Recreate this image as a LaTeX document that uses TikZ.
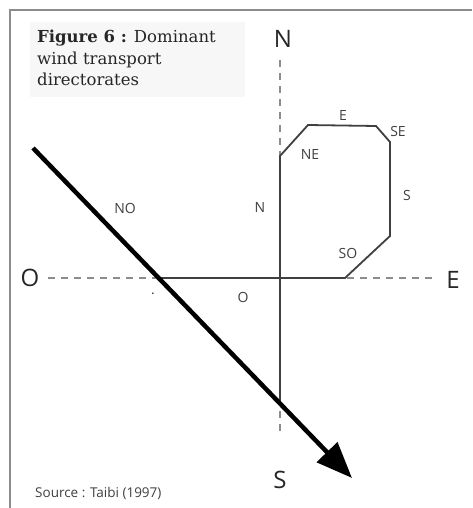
\documentclass[tikz,border=0pt]{standalone}
\usepackage{fontspec}
\setmainfont{DejaVu Serif}
\newfontfamily\labfont{Open Sans}
\usetikzlibrary{arrows.meta}
\begin{document}
\begin{tikzpicture}[x=1pt,y=-1pt,
  axislabel/.style={font=\labfont\fontsize{24}{26}\selectfont, text=black!85, inner sep=0pt},
  seclabel/.style={font=\labfont\fontsize{14}{16}\selectfont, text=black!75, inner sep=0pt},
  axisline/.style={draw=black!45, line width=1.7pt, dash pattern=on 7pt off 6pt},
  roseline/.style={draw=black!75, line width=1.8pt, line join=miter},
  windarrow/.style={draw=black, line width=4.5pt, -{Triangle[length=36pt,width=28pt]}}]
\useasboundingbox (0,0) rectangle (472,508);
\fill[white] (0,0) rectangle (472,508);
% frame
\draw[black!45, line width=2.2pt] (10,508) -- (10,10) -- (472,10);
% title box
\fill[black!3] (30,22) rectangle (245,97);
\node[anchor=north west, align=left, inner sep=0pt, text=black!85,
      font=\fontsize{16.5}{21.5}\selectfont] (title) at (37,30)
  {\textbf{Figure 6 :} Dominant\\wind transport\\directorates};
% axis labels
\node[axislabel] (lN) at (283,39) {N};
\node[axislabel] (lS) at (280,480) {S};
\node[axislabel] (lO) at (30,278) {O};
\node[axislabel] (lE) at (453,280) {E};
% axes
\coordinate (nTop) at (280,60);
\coordinate (sBot) at (280,432);
\coordinate (oL) at (48,278);
\coordinate (eR) at (432,278);
\draw[axisline] (nTop) -- (sBot);
\draw[axisline] (oL) -- (eR);
% rose polygon
\coordinate (pO) at (159,278);
\coordinate (pSO) at (345,278);
\coordinate (pS1) at (390,236);
\coordinate (pS2) at (390,142);
\coordinate (pSE) at (376,126);
\coordinate (pE) at (308,125);
\coordinate (pNE) at (280,156);
\coordinate (pN) at (280,403);
\draw[roseline] (pO) -- (pSO) -- (pS1) -- (pS2) -- (pSE) -- (pE) -- (pNE) -- (pN);
% sector labels
\node[seclabel] (tNO) at (125,208) {NO};
\node[seclabel] (tN) at (260,208) {N};
\node[seclabel] (tNE) at (310,155) {NE};
\node[seclabel] (tE) at (343,116) {E};
\node[seclabel] (tSE) at (398,131) {SE};
\node[seclabel] (tS) at (407,195) {S};
\node[seclabel] (tSO) at (348,253) {SO};
\node[seclabel] (tO) at (243,297) {O};
\node[seclabel] (tdot) at (153,294) {.};
% wind arrow
\coordinate (aStart) at (33,148);
\coordinate (aEnd) at (352,478);
\draw[windarrow] (aStart) -- (aEnd);
% source
\node[anchor=west, inner sep=0pt, text=black!75,
      font=\labfont\fontsize{13.5}{15}\selectfont] (src) at (35,493) {Source : Taibi (1997)};
\end{tikzpicture}
\end{document}
